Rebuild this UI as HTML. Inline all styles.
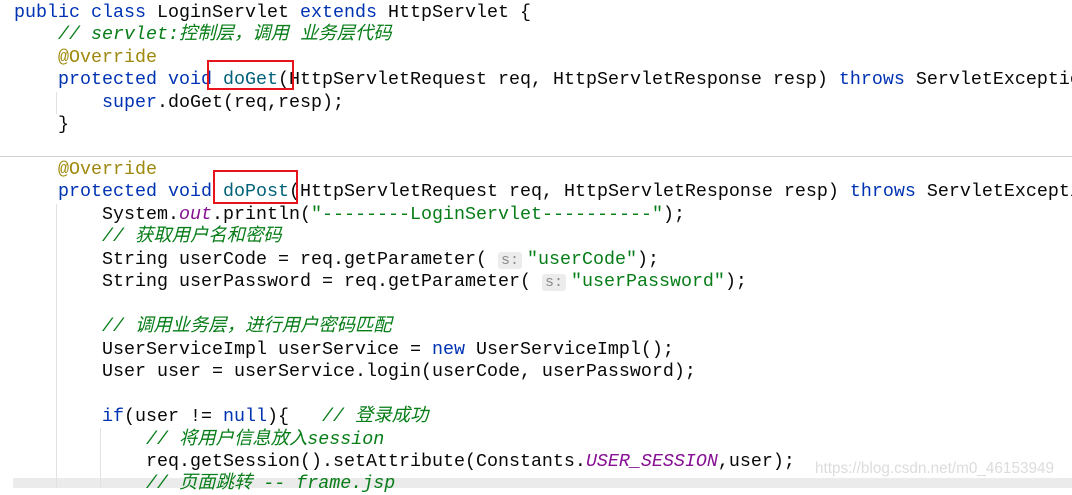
<!DOCTYPE html>
<html><head><meta charset="utf-8"><style>
body{margin:0;width:1072px;height:488px;overflow:hidden;background:#fff;position:relative}
.l{position:absolute;left:14px;height:22px;line-height:22px;white-space:pre;font-family:"Liberation Mono","Noto Sans CJK SC",monospace;font-size:18.33px;color:#080808}
.k{color:#0033b3}.a{color:#9e880d}.c{color:#067d17;font-style:italic}.s{color:#067d17}.m{color:#00627a}.p{color:#871094;font-style:italic}
.h{background:#ececec;color:#8c8c8c;border-radius:3px;font-size:15px;padding:0 3px;margin-right:5px}
.box{position:absolute;border:2px solid #e8141b}
.g{position:absolute;width:1px;background:#e2e2e2}
</style></head><body>
<div style="position:absolute;left:0;top:156px;width:1072px;height:1px;background:#d0d0d0"></div>
<div style="position:absolute;left:13px;top:478px;width:1059px;height:10px;background:#ebebeb"></div>
<div class="g" style="left:56px;top:92px;height:22px"></div>
<div class="g" style="left:56px;top:204px;height:284px"></div>
<div class="g" style="left:100px;top:428px;height:60px"></div>
<div class="l" style="top:2px"><span class="k">public class</span> LoginServlet <span class="k">extends</span> HttpServlet {</div>
<div class="l" style="top:24px">    <span class="c">// servlet:控制层，调用 业务层代码</span></div>
<div class="l" style="top:47px">    <span class="a">@Override</span></div>
<div class="l" style="top:69px">    <span class="k">protected void</span> <span class="m">doGet</span>(HttpServletRequest req, HttpServletResponse resp) <span class="k">throws</span> ServletException</div>
<div class="l" style="top:92px">        <span class="k">super</span>.doGet(req,resp);</div>
<div class="l" style="top:114px">    }</div>
<div class="l" style="top:159px">    <span class="a">@Override</span></div>
<div class="l" style="top:181px">    <span class="k">protected void</span> <span class="m">doPost</span>(HttpServletRequest req, HttpServletResponse resp) <span class="k">throws</span> ServletException</div>
<div class="l" style="top:204px">        System.<span class="p">out</span>.println(<span class="s">"--------LoginServlet----------"</span>);</div>
<div class="l" style="top:226px">        <span class="c">// 获取用户名和密码</span></div>
<div class="l" style="top:249px">        String userCode = req.getParameter( <span class="h">s:</span><span class="s">"userCode"</span>);</div>
<div class="l" style="top:271px">        String userPassword = req.getParameter( <span class="h">s:</span><span class="s">"userPassword"</span>);</div>
<div class="l" style="top:316px">        <span class="c">// 调用业务层，进行用户密码匹配</span></div>
<div class="l" style="top:339px">        UserServiceImpl userService = <span class="k">new</span> UserServiceImpl();</div>
<div class="l" style="top:361px">        User user = userService.login(userCode, userPassword);</div>
<div class="l" style="top:406px">        <span class="k">if</span>(user != <span class="k">null</span>){   <span class="c">// 登录成功</span></div>
<div class="l" style="top:429px">            <span class="c">// 将用户信息放入session</span></div>
<div class="l" style="top:451px">            req.getSession().setAttribute(Constants.<span class="p">USER_SESSION</span>,user);</div>
<div class="l" style="top:473px">            <span class="c">// 页面跳转 -- frame.jsp</span></div>
<div class="box" style="left:207px;top:60px;width:83px;height:26px"></div>
<div class="box" style="left:213px;top:170px;width:81px;height:30px"></div>
<div style="position:absolute;left:815px;top:460px;font-family:'Liberation Sans',sans-serif;font-size:15.3px;color:#dcdcdc">https://blog.csdn.net/m0_46153949</div>
</body></html>
